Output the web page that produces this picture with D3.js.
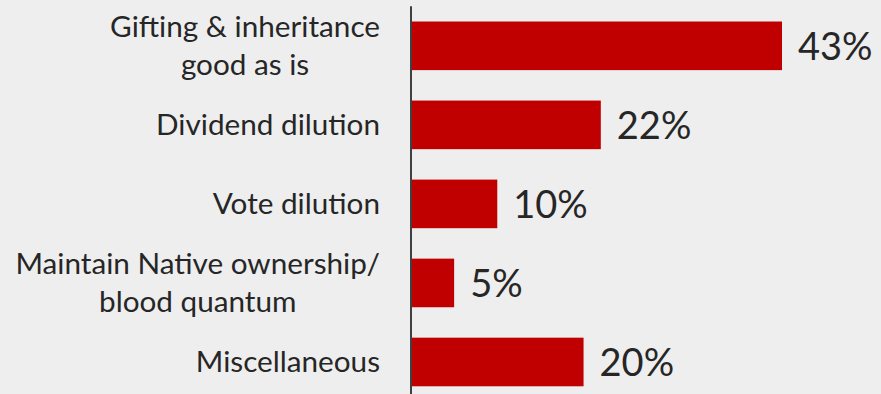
<!DOCTYPE html>
<html>
<head>
<meta charset="utf-8">
<script src="https://cdn.jsdelivr.net/npm/d3@7"></script>
<style>
  html, body { margin: 0; padding: 0; background: #eeeeee; }
  svg { display: block; }
  text { font-family: Lato, "Open Sans", sans-serif; fill: #262626; }
</style>
</head>
<body>
<svg id="chart" width="881" height="394"></svg>
<script>
// Survey responses: reasons given, share of respondents (%)
const categories = [
  ["Gifting & inheritance", "good as is"],
  ["Dividend dilution"],
  ["Vote dilution"],
  ["Maintain Native ownership/", "blood quantum"],
  ["Miscellaneous"]
];
const values = [43, 22, 10, 5, 20];
const valueLabels = ["43%", "22%", "10%", "5%", "20%"];

const W = 881, H = 394;
const axisX = 411;
const svg = d3.select("#chart");
svg.append("rect").attr("width", W).attr("height", H).attr("fill", "#eeeeee");

const keys = categories.map(c => c.join(" "));
const y = d3.scaleBand()
  .domain(keys)
  .range([6.3, 401.5])
  .paddingInner(0.385)
  .paddingOuter(0.1925);

const x = d3.scaleLinear().domain([0, 43]).range([axisX, 782]);

// bars
svg.append("g").selectAll("rect")
  .data(values)
  .join("rect")
  .attr("x", x(0))
  .attr("y", (d, i) => y(keys[i]))
  .attr("width", d => x(d) - x(0))
  .attr("height", y.bandwidth())
  .attr("fill", "#c00000");

// value labels
svg.append("g").selectAll("text")
  .data(values)
  .join("text")
  .attr("x", d => x(d) + 16)
  .attr("y", (d, i) => y(keys[i]) + y.bandwidth() / 2 + 14)
  .attr("font-size", 38)
  .text((d, i) => valueLabels[i]);

// category labels (multi-line blocks centred on each other, right-aligned as a block)
const labelRight = 380;
const lineH = 38.5;
const fs = 29.7;
const lg = svg.append("g");
categories.forEach((lines, i) => {
  const cy = y(keys[i]) + y.bandwidth() / 2;
  const t = lg.append("text").attr("font-size", fs);
  const spans = lines.map((ln, j) => t.append("tspan").text(ln));
  if (lines.length === 1) {
    t.attr("text-anchor", "end").attr("x", labelRight).attr("y", cy + 10);
  } else {
    const widths = spans.map(s => s.node().getComputedTextLength());
    const maxW = d3.max(widths);
    const cx = labelRight - maxW / 2;
    t.attr("text-anchor", "middle");
    const base = cy + 10 - (lines.length - 1) * lineH / 2;
    spans.forEach((s, j) => s.attr("x", cx).attr("y", base + j * lineH));
  }
});

// vertical category axis line
svg.append("line")
  .attr("x1", axisX).attr("x2", axisX)
  .attr("y1", y.range()[0]).attr("y2", H)
  .attr("stroke", "#404040")
  .attr("stroke-width", 2);
</script>
</body>
</html>
